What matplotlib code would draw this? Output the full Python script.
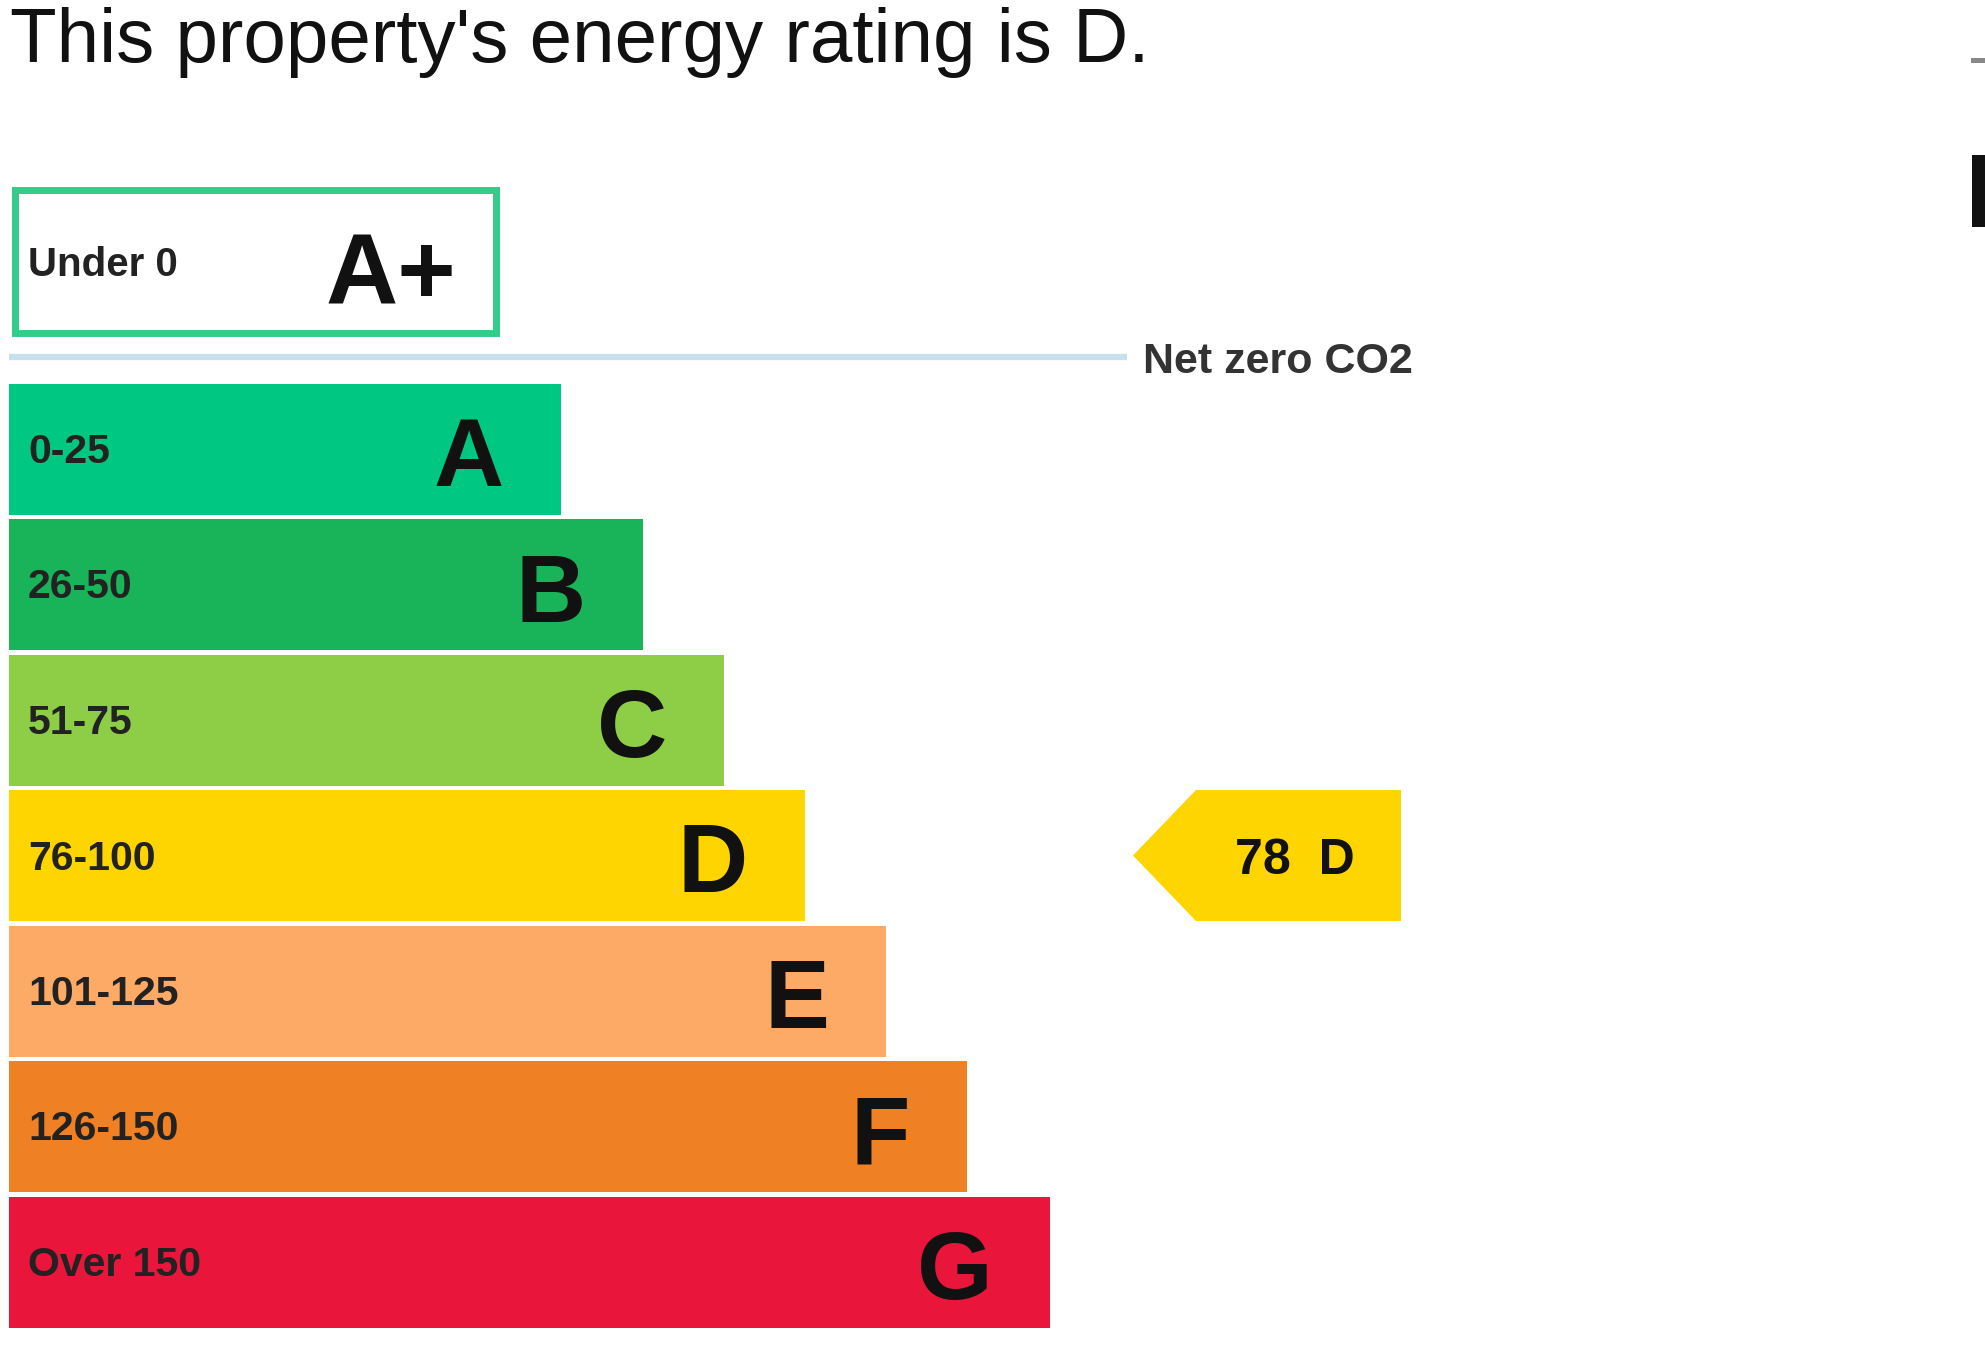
import matplotlib.pyplot as plt
from matplotlib.patches import Rectangle, Polygon

plt.rcParams['font.family'] = ['Liberation Sans', 'DejaVu Sans']

# rating bands (A..G), their score ranges and bar lengths (px)
bands = ['A', 'B', 'C', 'D', 'E', 'F', 'G']
ranges = ['0-25', '26-50', '51-75', '76-100', '101-125', '126-150', 'Over 150']
bar_ends = [561, 643, 724, 805, 886, 967, 1050]
colors = ['#00c781', '#19b459', '#8dce46', '#ffd500', '#fcaa65', '#ef8023', '#e9153b']

score = 78
rating = 'D'
title = "This property's energy rating is D."

W, H = 1985, 1345
fig = plt.figure(figsize=(W / 100, H / 100), dpi=100)
ax = fig.add_axes([0, 0, 1, 1])
ax.set_xlim(0, W)
ax.set_ylim(H, 0)
ax.axis('off')

# layout
x0 = 9
y_first = 449
pitch = 135.5
bar_h = 131
ys = [y_first + i * pitch for i in range(len(bands))]

ax.text(10, 62, title, fontsize=55, va='baseline', ha='left', color='#111111')

# A+ box and net zero line
ax.add_patch(Rectangle((15, 190), 481, 143, fill=False, ec='#33cc88', lw=5))
ax.text(28, 276, 'Under 0', fontsize=29, fontweight='bold', va='baseline', color='#222222')
ax.text(456, 304, 'A+', fontsize=72, fontweight='bold', va='baseline', ha='right', color='#111111')
ax.plot([x0, 1127], [357, 357], color='#c6e0ec', lw=4.5, solid_capstyle='butt')
ax.text(1143, 373, 'Net zero CO2', fontsize=31, fontweight='bold', va='baseline', color='#333333')

# bands
ax.barh(ys, [e - x0 for e in bar_ends], left=x0, height=bar_h, color=colors, linewidth=0)
for y, band, rng, end in zip(ys, bands, ranges, bar_ends):
    ax.text(28, y + 14, rng, fontsize=29.5, fontweight='bold', va='baseline', color='#222222')
    ax.text(end - 57, y + 37, band, fontsize=70, fontweight='bold', va='baseline', ha='right', color='#111111')

# current rating arrow
yc = ys[bands.index(rating)]
ax.add_patch(Polygon([(1133, yc), (1196, yc - bar_h / 2), (1401, yc - bar_h / 2),
                      (1401, yc + bar_h / 2), (1196, yc + bar_h / 2)],
                     closed=True, color=colors[bands.index(rating)], lw=0))
ax.text(1355, yc + 18, f'{score}  {rating}', fontsize=36, fontweight='bold', va='baseline',
        ha='right', color='#111111')

# fragments of something cut off at the right edge
ax.add_patch(Rectangle((1971, 58), 14, 5, color='#888888', lw=0))
ax.add_patch(Rectangle((1972, 155), 13, 72, color='#111111', lw=0))

fig.savefig('out.png', dpi=100)
